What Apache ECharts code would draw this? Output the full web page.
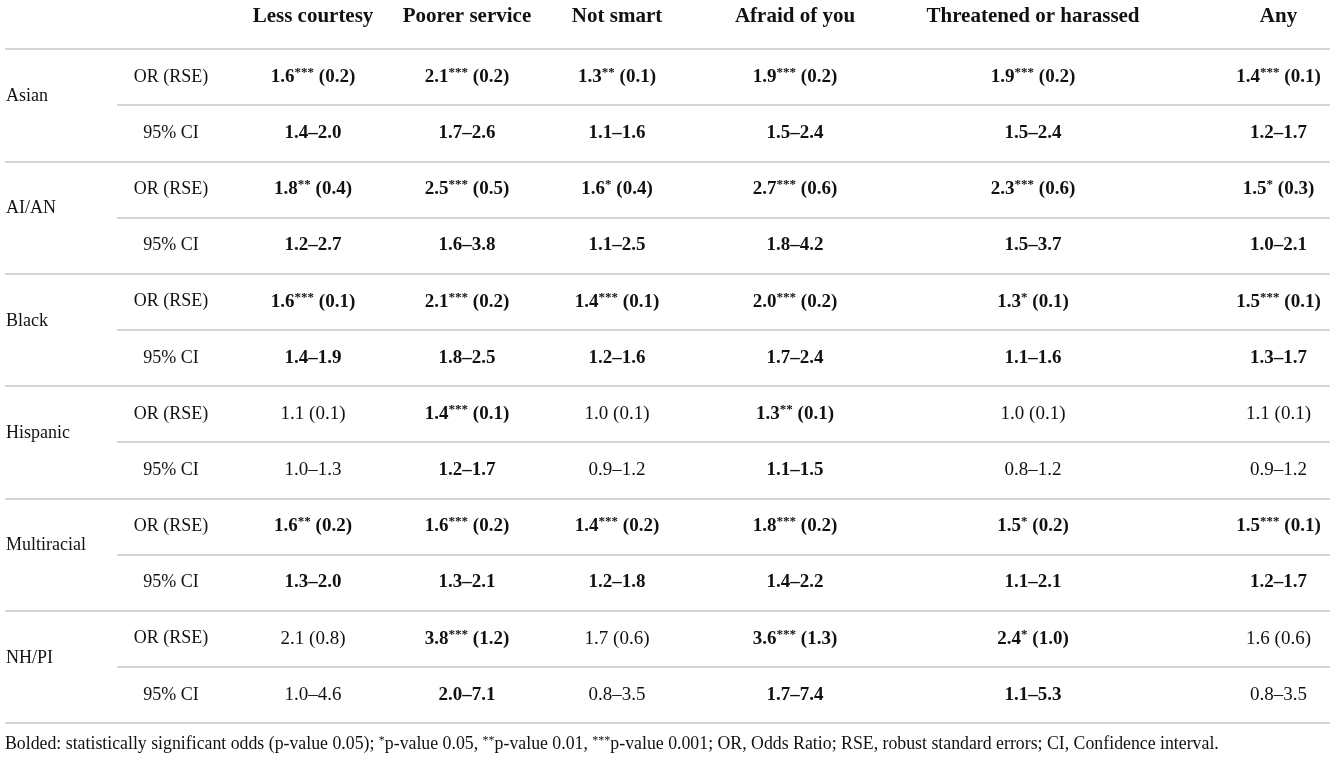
<!DOCTYPE html>
<html>
<head>
<meta charset="utf-8">
<script src="https://cdn.jsdelivr.net/npm/echarts@6/dist/echarts.min.js"></script>
<style>
html, body { margin: 0; background: #fff; }
#main { width: 1334px; height: 758px; }
</style>
</head>
<body>
<div id="main"></div>
<script>
// rows and columns of the table
var groups = ['Asian', 'AI/AN', 'Black', 'Hispanic', 'Multiracial', 'NH/PI'];
var statLabels = ['OR (RSE)', '95% CI'];
var outcomes = ['Less courtesy', 'Poorer service', 'Not smart', 'Afraid of you', 'Threatened or harassed', 'Any'];

// one row per group, one column per outcome
var oddsRatio = [
  [1.6, 2.1, 1.3, 1.9, 1.9, 1.4],
  [1.8, 2.5, 1.6, 2.7, 2.3, 1.5],
  [1.6, 2.1, 1.4, 2.0, 1.3, 1.5],
  [1.1, 1.4, 1.0, 1.3, 1.0, 1.1],
  [1.6, 1.6, 1.4, 1.8, 1.5, 1.5],
  [2.1, 3.8, 1.7, 3.6, 2.4, 1.6]
];
var robustSE = [
  [0.2, 0.2, 0.1, 0.2, 0.2, 0.1],
  [0.4, 0.5, 0.4, 0.6, 0.6, 0.3],
  [0.1, 0.2, 0.1, 0.2, 0.1, 0.1],
  [0.1, 0.1, 0.1, 0.1, 0.1, 0.1],
  [0.2, 0.2, 0.2, 0.2, 0.2, 0.1],
  [0.8, 1.2, 0.6, 1.3, 1.0, 0.6]
];
var stars = [
  [3, 3, 2, 3, 3, 3],
  [2, 3, 1, 3, 3, 1],
  [3, 3, 3, 3, 1, 3],
  [0, 3, 0, 2, 0, 0],
  [2, 3, 3, 3, 1, 3],
  [0, 3, 0, 3, 1, 0]
];
var ciLow = [
  [1.4, 1.7, 1.1, 1.5, 1.5, 1.2],
  [1.2, 1.6, 1.1, 1.8, 1.5, 1.0],
  [1.4, 1.8, 1.2, 1.7, 1.1, 1.3],
  [1.0, 1.2, 0.9, 1.1, 0.8, 0.9],
  [1.3, 1.3, 1.2, 1.4, 1.1, 1.2],
  [1.0, 2.0, 0.8, 1.7, 1.1, 0.8]
];
var ciHigh = [
  [2.0, 2.6, 1.6, 2.4, 2.4, 1.7],
  [2.7, 3.8, 2.5, 4.2, 3.7, 2.1],
  [1.9, 2.5, 1.6, 2.4, 1.6, 1.7],
  [1.3, 1.7, 1.2, 1.5, 1.2, 1.2],
  [2.0, 2.1, 1.8, 2.2, 2.1, 1.7],
  [4.6, 7.1, 3.5, 7.4, 5.3, 3.5]
];

var FONT = '"Liberation Serif", "DejaVu Serif", serif';
var INK = '#111';
var RULE = '#c8c8c8';

// layout of the text columns (centre x, width)
var colCentres = [171, 313, 467, 617, 795, 1033, 1283];
var colWidth = 120;
var tableTop = 49, tableBottom = 35;

var rowKeys = [];
groups.forEach(function (g) {
  statLabels.forEach(function (s) { rowKeys.push(g + ' ' + s); });
});

var rich = {
  b: { fontFamily: FONT, fontSize: 19, fontWeight: 'bold', color: INK, lineHeight: 22 },
  bs: { fontFamily: FONT, fontSize: 13, fontWeight: 'bold', color: INK, lineHeight: 13, verticalAlign: 'top' },
  n: { fontFamily: FONT, fontSize: 19, color: INK, lineHeight: 22 },
  l: { fontFamily: FONT, fontSize: 18, color: INK, lineHeight: 22 }
};

function orText(g, o) {
  var bold = stars[g][o] > 0;
  var s = '{' + (bold ? 'b' : 'n') + '|' + oddsRatio[g][o].toFixed(1) + '}';
  if (stars[g][o] > 0) s += '{bs|' + new Array(stars[g][o] + 1).join('*') + '}';
  s += '{' + (bold ? 'b' : 'n') + '| (' + robustSE[g][o].toFixed(1) + ')}';
  return s;
}
function ciText(g, o) {
  var bold = stars[g][o] > 0;
  return '{' + (bold ? 'b' : 'n') + '|' + ciLow[g][o].toFixed(1) + '–' + ciHigh[g][o].toFixed(1) + '}';
}

var grid = [], xAxis = [], yAxis = [], series = [];

// rule grids: full-width group rules and inner OR/CI rules
grid.push({ left: 5, right: 4, top: tableTop, bottom: tableBottom });
xAxis.push({ type: 'value', gridIndex: 0, show: false });
yAxis.push({
  type: 'category', gridIndex: 0, data: groups, inverse: true,
  axisLine: { show: false }, axisTick: { show: false },
  axisLabel: { inside: true, margin: 1, verticalAlign: 'bottom', fontFamily: FONT, fontSize: 18, color: INK },
  splitLine: { show: true, lineStyle: { color: RULE, width: 1.5 } }
});
grid.push({ left: 117, right: 4, top: tableTop, bottom: tableBottom });
xAxis.push({ type: 'value', gridIndex: 1, show: false });
yAxis.push({
  type: 'category', gridIndex: 1, data: rowKeys, inverse: true,
  axisLine: { show: false }, axisTick: { show: false }, axisLabel: { show: false },
  splitLine: { show: true, lineStyle: { color: ['rgba(0,0,0,0)', RULE], width: 1.5 } }
});

// text columns
var headers = [''].concat(outcomes);
headers.forEach(function (h, c) {
  var idx = grid.length;
  grid.push({ left: colCentres[c] - colWidth / 2, width: colWidth, top: tableTop, bottom: tableBottom });
  xAxis.push({
    type: 'category', gridIndex: idx, data: [h], position: 'top',
    axisLine: { show: false }, axisTick: { show: false },
    axisLabel: { fontFamily: FONT, fontSize: 21, fontWeight: 'bold', color: INK, margin: 22 }
  });
  yAxis.push({ type: 'category', gridIndex: idx, data: rowKeys, inverse: true, show: false });
  var data = [];
  groups.forEach(function (g, gi) {
    if (c === 0) {
      data.push({ value: [0, gi * 2], txt: '{l|' + statLabels[0] + '}' });
      data.push({ value: [0, gi * 2 + 1], txt: '{l|' + statLabels[1] + '}' });
    } else {
      data.push({ value: [0, gi * 2], txt: orText(gi, c - 1) });
      data.push({ value: [0, gi * 2 + 1], txt: ciText(gi, c - 1) });
    }
  });
  series.push({
    type: 'scatter', xAxisIndex: idx, yAxisIndex: idx, data: data,
    symbolSize: 1, itemStyle: { color: 'rgba(0,0,0,0)' }, silent: true,
    label: {
      show: true, position: 'inside', color: INK, opacity: 1,
      textBorderWidth: 0,
      formatter: function (p) { return p.data.txt; },
      rich: rich
    }
  });
});

var chart = echarts.init(document.getElementById('main'));
chart.setOption({
  animation: false,
  backgroundColor: '#fff',
  title: {
    left: 0, bottom: 0,
    text: 'Bolded: statistically significant odds (p-value 0.05); {s|*}p-value 0.05, {s|**}p-value 0.01, {s|***}p-value 0.001; OR, Odds Ratio; RSE, robust standard errors; CI, Confidence interval.',
    textStyle: {
      fontFamily: FONT, fontSize: 17.8, fontWeight: 'normal', color: INK,
      rich: {
        s: { fontFamily: FONT, fontSize: 12, color: INK, lineHeight: 10, verticalAlign: 'top' }
      }
    }
  },
  grid: grid,
  xAxis: xAxis,
  yAxis: yAxis,
  series: series
});
</script>
</body>
</html>
